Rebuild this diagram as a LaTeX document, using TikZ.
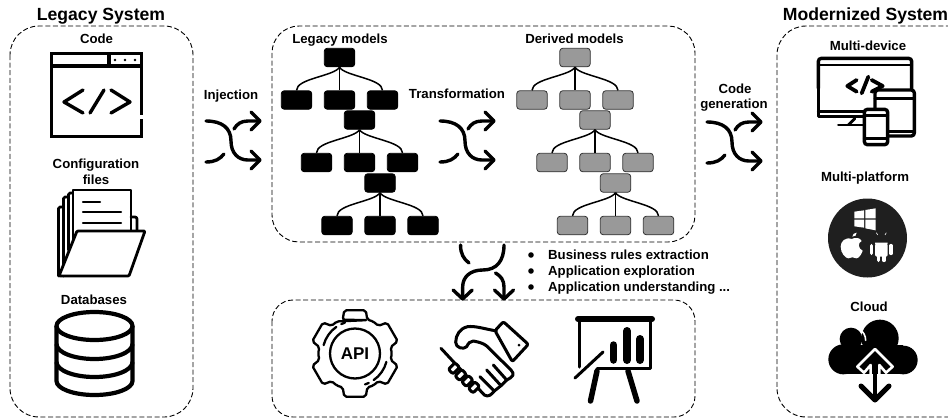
\documentclass[tikz,border=0pt]{standalone}
\usepackage{fontspec}
\setmainfont{Liberation Sans}
\usetikzlibrary{calc}
\tikzset{
  dashbox/.style={draw=black,line width=0.9pt,dash pattern=on 5pt off 2.6pt},
  lbl/.style={inner sep=0pt,anchor=base,font=\bfseries\fontsize{13.2}{16}\selectfont},
  title/.style={inner sep=0pt,anchor=base,font=\bfseries\fontsize{17.6}{20}\selectfont},
  icon/.style={line width=3.4pt,line cap=round,line join=round},
  legacybox/.style={draw=black,fill=black,line width=0.8pt,rounded corners=3pt,minimum width=30.5pt,minimum height=18.5pt,inner sep=0pt},
  derivedbox/.style={draw=black!80,fill=black!40,line width=0.8pt,rounded corners=3pt,minimum width=30.5pt,minimum height=18.5pt,inner sep=0pt},
  treelink/.style={line width=1.5pt}
}
\newcommand{\modeltree}[4]{%
  \node[#4] (#1p) at (#2,#3) {};
  \node[#4] (#1a) at ($(#2,#3)+(-43,42.5)$) {};
  \node[#4] (#1b) at ($(#2,#3)+(0,42.5)$) {};
  \node[#4] (#1c) at ($(#2,#3)+(43,42.5)$) {};
  \draw[treelink] (#1p.south) .. controls +(-5,9) and +(0,-12) .. (#1a.north);
  \draw[treelink] (#1p.south) -- (#1b.north);
  \draw[treelink] (#1p.south) .. controls +(5,9) and +(0,-12) .. (#1c.north);
}
\newcommand{\shufflearrows}{%
  \draw[icon] (0,0) .. controls (16,0) and (25,7) .. (25,20) .. controls (25,32) and (32,39) .. (42,39) -- (54,39);
  \draw[icon] (0,41) .. controls (9,41) and (14,38) .. (18,33);
  \draw[icon] (28,8) .. controls (31,3) and (35,0) .. (42,0) -- (54,0);
  \draw[icon] (45,-9) -- (54,0) -- (45,9);
  \draw[icon] (45,30) -- (54,39) -- (45,48);
}
\begin{document}
\begin{tikzpicture}[x=1pt,y=-1pt]
\useasboundingbox (0,0) rectangle (948,418);
\clip (0,0) rectangle (948,418);
% containers
\draw[dashbox,rounded corners=29pt] (10,26) rectangle (193,417);
\draw[dashbox,rounded corners=27pt] (272,26) rectangle (695,242);
\draw[dashbox,rounded corners=21pt] (272,300) rectangle (695,417);
\draw[dashbox,rounded corners=29pt] (777,26) rectangle (985,417);
% titles and labels
\node[title] (tlegacy) at (101,20) {Legacy System};
\node[title] (tmodern) at (865.5,20) {Modernized System};
\node[lbl] (lcode) at (96.5,43) {Code};
\node[lbl] (lconf) at (96,168) {Configuration};
\node[lbl] (lfiles) at (96,184) {files};
\node[lbl] (ldb) at (94,304) {Databases};
\node[lbl] (linj) at (231,99) {Injection};
\node[lbl] (ltrans) at (457,98) {Transformation};
\node[lbl] (lcg) at (735,93) {Code};
\node[lbl] (lgen) at (734,108) {generation};
\node[lbl] (llm) at (340,43) {Legacy models};
\node[lbl] (ldm) at (574.5,43) {Derived models};
\node[lbl] (lmd) at (868,50) {Multi-device};
\node[lbl] (lmp) at (865,181) {Multi-platform};
\node[lbl] (lcl) at (869,311) {Cloud};
\node[lbl,anchor=base west] (b1) at (548,259) {Business rules extraction};
\node[lbl,anchor=base west] (b2) at (548,275) {Application exploration};
\node[lbl,anchor=base west] (b3) at (548,291) {Application understanding ...};
\fill (531,255) circle (2.8) (531,271) circle (2.8) (531,287) circle (2.8);
% trees
\modeltree{la}{339.5}{57.5}{legacybox}
\modeltree{lb}{359.5}{120}{legacybox}
\modeltree{lc}{380}{183}{legacybox}
\modeltree{da}{575}{57.5}{derivedbox}
\modeltree{db}{595}{120}{derivedbox}
\modeltree{dc}{615.5}{183}{derivedbox}
% shuffle icons
\begin{scope}[shift={(206,121)}]\shufflearrows\end{scope}
\begin{scope}[shift={(440,121)}]\shufflearrows\end{scope}
\begin{scope}[shift={(707,122)}]\shufflearrows\end{scope}
\begin{scope}[shift={(504,245)},rotate=-90,yscale=1.06]\shufflearrows\end{scope}
% code window
\begin{scope}[icon,line cap=butt,line join=miter]
\draw (51.5,117) -- (51.5,53.5) -- (141.5,53.5) -- (141.5,115);
\draw (141.5,119) -- (141.5,136.5) -- (51.5,136.5) -- (51.5,117);
\draw (51.5,66) -- (141.5,66);
\draw (109,53.5) -- (109,66);
\end{scope}
\fill (115,60) circle (1.4) (125,60) circle (1.4) (135,60) circle (1.4);
\draw[icon] (83,90) -- (64,102) -- (83,113);
\draw[icon] (104,90) -- (90,113);
\draw[icon] (111,90) -- (130,102) -- (111,113);
% folder
\begin{scope}[line width=2.8pt,line cap=round,line join=round]
\draw[rounded corners=1.5pt] (58.5,276) -- (58.5,207) -- (63,207);
\draw[rounded corners=1.5pt] (63.5,276) -- (63.5,197) -- (68,197);
\draw[rounded corners=1.5pt] (68.5,250) -- (68.5,193) -- (73,193);
\draw[fill=white] (73,240) -- (73,190) -- (131,190) -- (131,240);
\draw[line width=2.2pt] (83,202) -- (100,202);
\draw[line width=2.2pt] (83,212) -- (121,212);
\draw[line width=2.2pt] (83,223) -- (121,223);
\draw[rounded corners=2pt] (131,217) -- (137,217) -- (137,231);
\draw[fill=white,rounded corners=1pt] (77,231) -- (145,231) -- (129,276) -- (59,276) -- cycle;
\end{scope}
% database
\begin{scope}[line width=4.2pt]
\draw (94.5,326) ellipse (38 and 14);
\draw (56.5,326) -- (56.5,381) arc[start angle=180,end angle=0,x radius=38,y radius=14] -- (132.5,326);
\draw (56.5,344) arc[start angle=180,end angle=0,x radius=38,y radius=15];
\draw (56.5,362) arc[start angle=180,end angle=0,x radius=38,y radius=15];
\end{scope}
% API gear
\begin{scope}[shift={(355,353.5)},line width=2.3pt,line cap=round,line join=round]
\draw[rounded corners=2pt] (-70:35.5)
  \foreach \a in {-90,-30,30,90,150,210} { -- (\a-20:36) -- (\a-14:44.5) -- (\a+14:44.5) -- (\a+20:36) -- (\a+30:37) } -- cycle;
\draw (0,0) circle (25);
\draw (15:32.5) arc[start angle=15,end angle=55,radius=32.5];
\draw (65:32.5) arc[start angle=65,end angle=72,radius=32.5];
\draw (195:32.5) arc[start angle=195,end angle=235,radius=32.5];
\draw (245:32.5) arc[start angle=245,end angle=252,radius=32.5];
\node[inner sep=0pt,font=\bfseries\fontsize{17}{17}\selectfont] (apitext) at (0,0) {API};
\end{scope}
% handshake
\begin{scope}[shift={(435,315)},scale=1/3,line width=3pt,line cap=round,line join=round]
\draw[rounded corners=2pt] (180,47) -- (205,20) -- (280,88) -- (232,140) -- cycle;
\fill (252,90) circle (4.5);
\draw (180,47) .. controls (150,42) and (120,32) .. (98,35) .. controls (75,40) and (62,60) .. (62,82) .. controls (62,98) and (85,105) .. (95,95) .. controls (100,85) and (105,78) .. (115,78) .. controls (135,82) and (145,85) .. (155,93) -- (228,165) .. controls (240,178) and (235,185) .. (215,195) -- (175,150);
\draw (215,195) -- (198,212) -- (155,165);
\draw (198,212) -- (178,228) -- (135,185);
\draw (178,228) .. controls (170,238) and (160,248) .. (148,240) -- (18,100);
\foreach \px/\py in {57/160,77/180,97/198,117/217} {
  \draw[fill=white,rounded corners=2pt,rotate around={45:(\px,\py)}] (\px-14,\py-10) rectangle (\px+14,\py+10);
}
\end{scope}
% presentation board
\begin{scope}[line cap=round,line join=round]
\draw[line width=6pt] (578,319) -- (652,319);
\draw[line width=3pt] (579.5,320) -- (579.5,367);
\draw[line width=3pt] (650.5,320) -- (650.5,368) -- (597,368);
\draw[line width=7.5pt] (613.5,345) -- (613.5,360);
\draw[line width=8pt] (627,331) -- (627,360);
\draw[line width=8pt] (640,339) -- (640,360);
\draw[line width=3pt] (575,378) -- (603,352);
\draw[line width=5.5pt] (597,371) -- (590.5,401);
\draw[line width=5.5pt] (628,371) -- (637,401);
\end{scope}
% multi-device
\begin{scope}[shift={(810,50)},scale=1/3,icon]
\draw[rounded corners=3pt] (25,115) -- (25,25) -- (305,25) -- (305,120);
\draw (25,115) -- (25,200) -- (180,200);
\draw[line width=2.8pt] (25,45) -- (305,45);
\draw[line width=2.8pt] (25,185) -- (160,185);
\draw[line width=2.8pt] (135,205) -- (115,225);
\draw[line width=2.8pt] (85,225) -- (165,225);
\draw[line width=3.8pt] (140,90) -- (112,108) -- (140,125);
\draw[line width=3.8pt] (175,80) -- (155,130);
\draw[line width=3.8pt] (185,90) -- (218,108) -- (185,125);
\draw[fill=white,rounded corners=3pt] (195,120) rectangle (313,258);
\draw[line width=2.8pt] (195,145) -- (313,145);
\draw[line width=2.8pt] (235,245) -- (313,245);
\draw[fill=white,rounded corners=3pt] (163,178) rectangle (233,284);
\draw[line width=2.8pt] (163,197) -- (233,197);
\draw[line width=2.8pt] (163,265) -- (233,265);
\end{scope}
% multi-platform
\fill[black!88] (867.5,238) circle (39.5);
\begin{scope}[shift={(825,195)},scale=1/3]
\fill[white] (88,50) -- (117,46) -- (117,70) -- (88,70) -- cycle;
\fill[white] (121,45) -- (152,40) -- (152,70) -- (121,70) -- cycle;
\fill[white] (88,74) -- (117,74) -- (117,98) -- (88,94) -- cycle;
\fill[white] (121,74) -- (152,74) -- (152,106) -- (121,100) -- cycle;
\fill[white] (80,132) .. controls (60,125) and (47,140) .. (47,155) .. controls (47,175) and (62,190) .. (70,190) .. controls (76,190) and (78,187) .. (82,187) .. controls (86,187) and (88,190) .. (95,190) .. controls (103,190) and (112,172) .. (113,167) .. controls (100,162) and (97,143) .. (110,138) .. controls (105,128) and (92,126) .. (80,132) -- cycle;
\fill[white] (82,125) .. controls (82,118) and (88,113) .. (95,113) .. controls (95,120) and (90,126) .. (82,125) -- cycle;
% android
\fill[white] (150,143) arc[start angle=180,end angle=0,x radius=19,y radius=23] -- cycle;
\fill[black!88] (160,132) circle (2.2) (178,132) circle (2.2);
\draw[white,line width=0.6pt] (158,120) -- (154,113) (180,120) -- (184,113);
\fill[white,rounded corners=1.5pt] (150,147) rectangle (188,185);
\draw[white,line width=3.6pt,line cap=round] (139,152) -- (139,175) (198,152) -- (198,175) (161,183) -- (161,196) (177,183) -- (177,196);
\end{scope}
% cloud
\begin{scope}[shift={(825,315)},scale=1/3]
\fill (165,70) circle (56);
\fill (78,72) circle (34);
\fill (55,133) circle (45);
\fill (235,135) circle (43);
\fill (55,90) rectangle (235,178);
\draw[white,line width=1.6pt,line cap=round] (103,42) .. controls (115,50) and (122,62) .. (122,76);
\draw[white,line width=2.6pt,line join=round,line cap=butt] (137,178) -- (137,150) -- (117,173) -- (97,155) -- (150,102) -- (203,155) -- (183,173) -- (163,150) -- (163,178);
\draw[line width=4pt,line cap=round] (150,135) -- (150,255);
\draw[line width=5pt,line cap=round,line join=round] (108,213) -- (150,255) -- (192,213);
\end{scope}
\end{tikzpicture}
\end{document}
